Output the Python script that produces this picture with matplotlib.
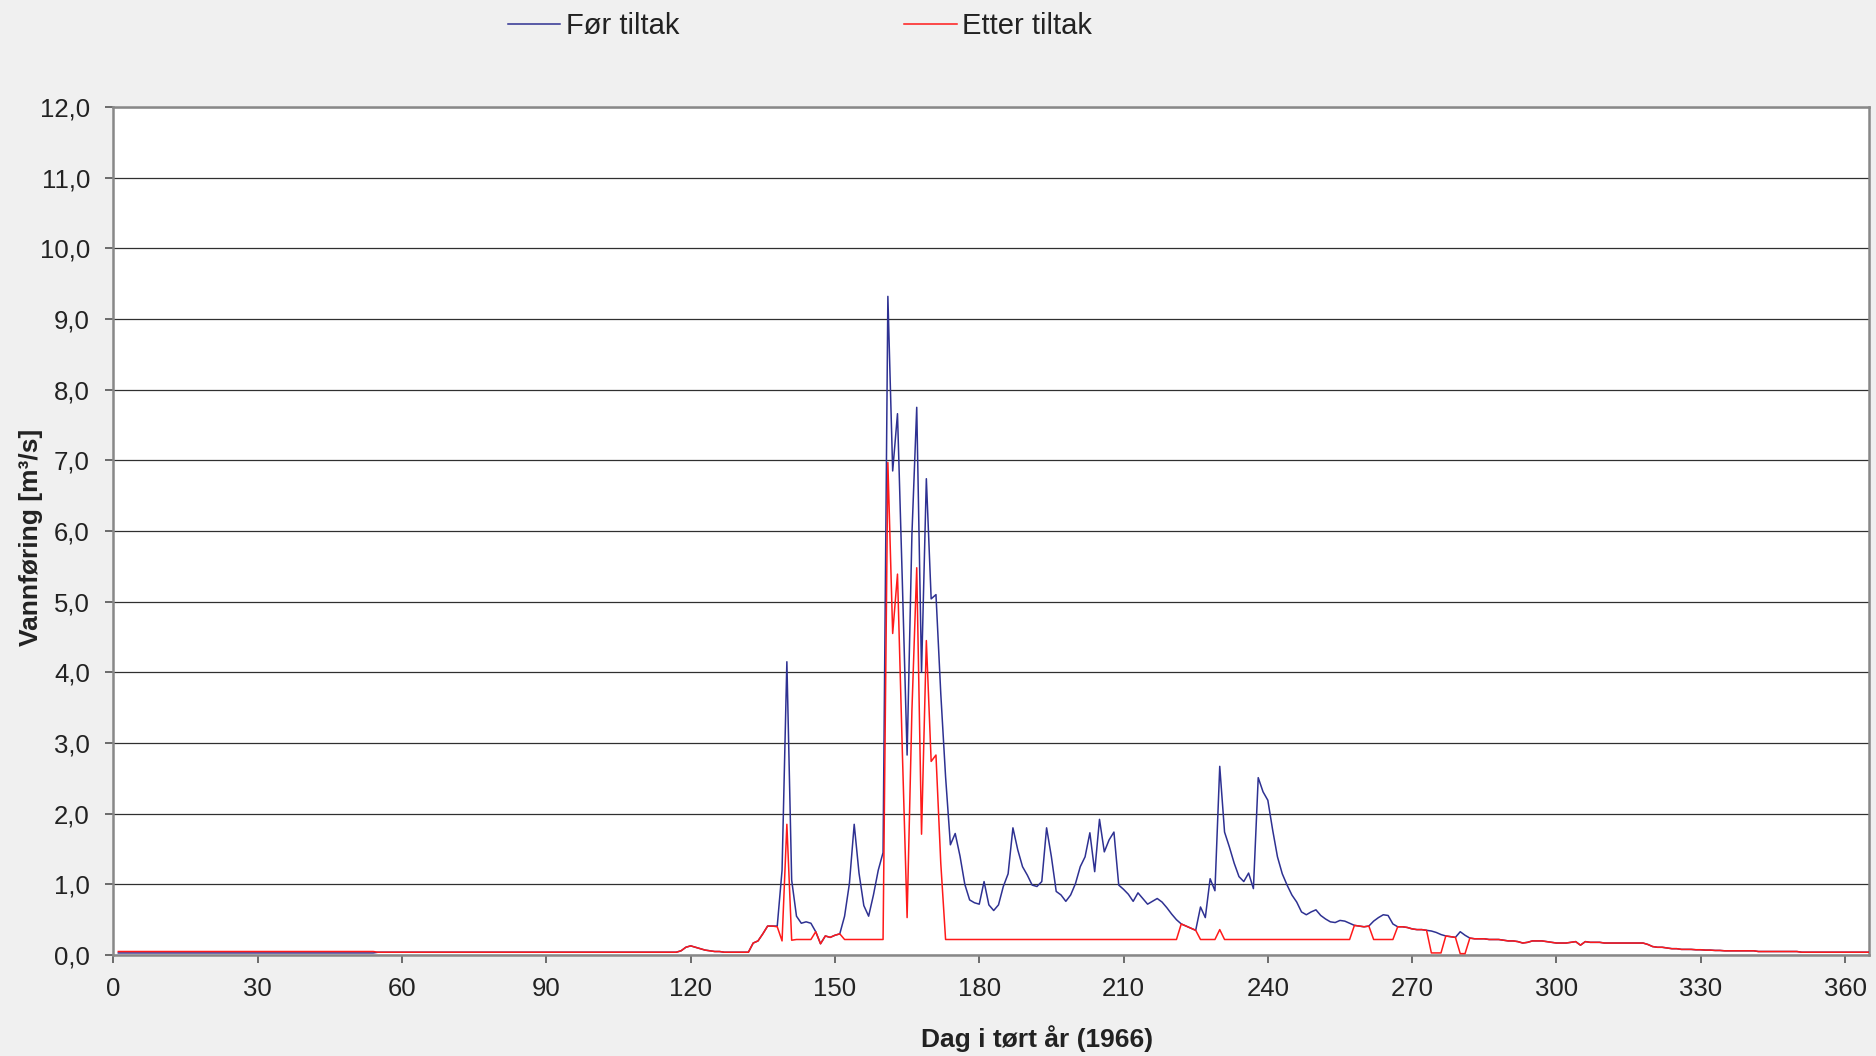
import matplotlib
matplotlib.use("Agg")
import matplotlib.pyplot as plt
from matplotlib.ticker import FuncFormatter

plt.rcParams['font.family'] = ['Liberation Sans', 'DejaVu Sans']

# ---- data (daily values, day 1..365) ----
days = list(range(1, 366))

for_tiltak = (
    [0.03] * 54 + [0.04] * 63 +                                   # 1-117
    [0.06, 0.11, 0.13, 0.11, 0.09, 0.07, 0.06, 0.05, 0.05, 0.04,
     0.04, 0.04, 0.04, 0.04, 0.04] +                               # 118-132
    [0.17, 0.2, 0.3, 0.41, 0.41, 0.41, 1.2, 4.15, 1.06, 0.55,
     0.45, 0.47, 0.45, 0.33, 0.16, 0.27, 0.25, 0.28, 0.3, 0.55,
     1.01, 1.85, 1.16, 0.7, 0.55, 0.85, 1.2, 1.45] +               # 133-160
    [9.32, 6.85, 7.66, 5.3, 2.83, 5.95, 7.75, 4.0, 6.74, 5.04,
     5.1, 3.7, 2.52, 1.56, 1.72, 1.4, 1.0, 0.78, 0.74, 0.72] +     # 161-180
    [1.04, 0.71, 0.63, 0.71, 0.97, 1.15, 1.8, 1.49, 1.25, 1.13,
     0.99, 0.97, 1.04, 1.8, 1.39, 0.9, 0.85, 0.76, 0.85, 1.01] +   # 181-200
    [1.25, 1.39, 1.73, 1.18, 1.92, 1.46, 1.63, 1.74, 0.99, 0.93,
     0.86, 0.76, 0.88, 0.8, 0.72, 0.76, 0.8, 0.75, 0.67, 0.58] +   # 201-220
    [0.5, 0.44, 0.41, 0.38, 0.35, 0.68, 0.53, 1.08, 0.91, 2.67,
     1.74, 1.53, 1.3, 1.11, 1.04, 1.16, 0.94, 2.51, 2.31, 2.19] +  # 221-240
    [1.77, 1.39, 1.15, 0.99, 0.85, 0.75, 0.61, 0.57, 0.61, 0.64,
     0.56, 0.51, 0.47, 0.46, 0.49, 0.48, 0.45, 0.42, 0.41, 0.4] +  # 241-260
    [0.41, 0.48, 0.53, 0.57, 0.56, 0.44, 0.4, 0.4, 0.39, 0.37,
     0.36, 0.36, 0.35, 0.34, 0.32, 0.29, 0.27, 0.26, 0.25, 0.33] + # 261-280
    [0.28, 0.24, 0.23, 0.23, 0.23, 0.22, 0.22, 0.22, 0.21, 0.2,
     0.2, 0.19, 0.17, 0.18, 0.2, 0.2, 0.2, 0.19, 0.18, 0.17] +     # 281-300
    [0.17, 0.17, 0.18, 0.19, 0.14, 0.19, 0.18, 0.18, 0.18, 0.17,
     0.17, 0.17, 0.17, 0.17, 0.17, 0.17, 0.17, 0.17, 0.15, 0.12] + # 301-320
    [0.11, 0.11, 0.1, 0.09, 0.09, 0.08, 0.08, 0.08, 0.075, 0.075,
     0.07, 0.07, 0.065, 0.065, 0.06, 0.06, 0.06, 0.06, 0.06, 0.06] + # 321-340
    [0.06] + [0.05] * 9 + [0.04] * 15                              # 341-365
)

etter_tiltak = (
    [0.05] * 54 + [0.04] * 63 +                                   # 1-117
    [0.06, 0.11, 0.13, 0.11, 0.09, 0.07, 0.06, 0.05, 0.05, 0.04,
     0.04, 0.04, 0.04, 0.04, 0.04] +                               # 118-132
    [0.17, 0.2, 0.3, 0.41, 0.41, 0.4, 0.2, 1.85, 0.21, 0.22,
     0.22, 0.22, 0.22, 0.33, 0.16, 0.27, 0.25, 0.28, 0.3] +
    [0.22] * 9 +                                                   # 133-160
    [6.97, 4.55, 5.39, 2.9, 0.53, 3.46, 5.48, 1.71, 4.45, 2.74,
     2.83, 1.3] + [0.22] * 8 +                                     # 161-180
    [0.22] * 41 +                                                  # 181-221
    [0.44, 0.41, 0.38, 0.35] + [0.22] * 4 + [0.36] +               # 222-230
    [0.22] * 27 +                                                  # 231-257
    [0.42, 0.41, 0.4, 0.41] + [0.22] * 5 +                         # 258-266
    [0.4, 0.4, 0.39, 0.37, 0.36, 0.36, 0.35] +                     # 267-273
    [0.03, 0.03, 0.03, 0.27, 0.26, 0.25, 0.02, 0.02] +             # 274-281
    [0.24, 0.23, 0.23, 0.23, 0.22, 0.22, 0.22, 0.21, 0.2,
     0.2, 0.19, 0.17, 0.18, 0.2, 0.2, 0.2, 0.19, 0.18, 0.17] +     # 282-300
    [0.17, 0.17, 0.18, 0.19, 0.14, 0.19, 0.18, 0.18, 0.18, 0.17,
     0.17, 0.17, 0.17, 0.17, 0.17, 0.17, 0.17, 0.17, 0.15, 0.12] + # 301-320
    [0.11, 0.11, 0.1, 0.09, 0.09, 0.08, 0.08, 0.08, 0.075, 0.075,
     0.07, 0.07, 0.065, 0.065, 0.06, 0.06, 0.06, 0.06, 0.06, 0.06] + # 321-340
    [0.06] + [0.05] * 9 + [0.04] * 15                              # 341-365
)

assert len(for_tiltak) == 365 and len(etter_tiltak) == 365

series_labels = ["Før tiltak", "Etter tiltak"]
x_ticks = list(range(0, 361, 30))
y_ticks = [0, 1, 2, 3, 4, 5, 6, 7, 8, 9, 10, 11, 12]
x_label = "Dag i tørt år (1966)"
y_label = "Vannføring [m³/s]"

# ---- figure ----
fig = plt.figure(figsize=(18.76, 10.56), dpi=100)
fig.patch.set_facecolor('#f0f0f0')
ax = fig.add_axes([0.0605, 0.0956, 0.9358, 0.8031])
ax.set_facecolor('white')

blue = '#2e3192'
red = '#ff1a1a'

ax.plot(days, for_tiltak, color=blue, lw=1.1, label=series_labels[0], zorder=3)
ax.plot(days, etter_tiltak, color=red, lw=1.1, label=series_labels[1], zorder=4)

ax.set_xlim(0, 365)
ax.set_ylim(0, 12)
ax.set_xticks(x_ticks)
ax.set_yticks(y_ticks)
ax.yaxis.set_major_formatter(FuncFormatter(lambda v, p: f"{v:.1f}".replace('.', ',')))

ax.grid(axis='y', color='#303030', lw=0.9, zorder=1)
ax.set_axisbelow(True)

for s in ax.spines.values():
    s.set_color('#888888')
    s.set_linewidth(1.8)

ax.tick_params(axis='both', direction='out', length=6, width=1.2, color='#555555',
               labelsize=18.5, labelcolor='#222222')
ax.tick_params(axis='y', pad=11)
ax.tick_params(axis='x', pad=10)

ax.set_xlabel(x_label, fontsize=19, fontweight='bold', color='#222222')
ax.set_ylabel(y_label, fontsize=19, fontweight='bold', color='#222222')
ax.xaxis.set_label_coords(0.526, -0.083)
ax.yaxis.set_label_coords(-0.040, 0.492)

fig.legend(loc='center', bbox_to_anchor=(0.4265, 0.975), ncol=2, frameon=False,
           fontsize=21, handlelength=1.8, handletextpad=0.2, columnspacing=7.7,
           labelcolor='#222222')

fig.savefig('out.png', dpi=100, facecolor=fig.get_facecolor())
